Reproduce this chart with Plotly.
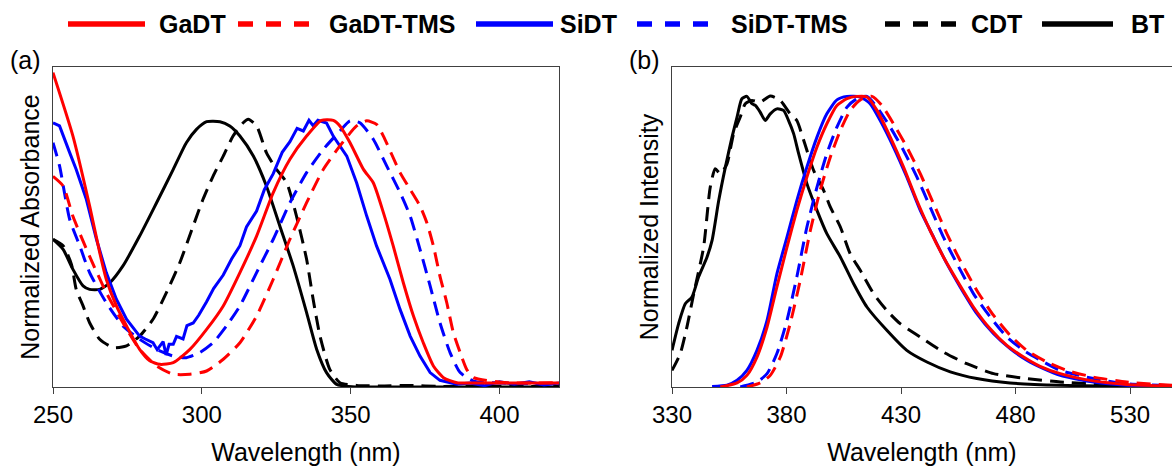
import plotly.graph_objects as go
from plotly.subplots import make_subplots

# ---- (a) absorbance, normalized ----
abs_gadt_x = [250, 256.7, 262.3, 265.7, 267.9, 271.3, 274.7, 279.1, 282.5, 285.9, 290.4, 296.0, 301.6,
              307.2, 312.8, 318.4, 324.0, 329.6, 335.2, 340.2, 344.2, 346.4, 349.8, 354.3, 357.6, 361.0,
              364.3, 367.7, 371.1, 374.4, 377.8, 381.2, 385.7, 391.3, 420]
abs_gadt_y = [1.179, 0.941, 0.679, 0.504, 0.404, 0.304, 0.229, 0.141, 0.098, 0.085, 0.091, 0.141, 0.216,
              0.304, 0.429, 0.566, 0.729, 0.854, 0.941, 1.0, 1.0, 0.979, 0.916, 0.816, 0.766, 0.654,
              0.529, 0.391, 0.266, 0.166, 0.079, 0.035, 0.016, 0.015, 0.015]

abs_gadttms_x = [250, 253.4, 256.7, 262.3, 267.9, 273.5, 279.1, 284.8, 290.4, 296.0, 301.6, 307.2, 312.8,
                 318.4, 324.0, 329.6, 335.2, 340.8, 346.4, 352.0, 355.4, 358.7, 361.0, 366.6, 370.0, 373.3,
                 375.6, 377.8, 380.0, 382.3, 384.5, 386.8, 389.0, 391.3, 402.5, 420]
abs_gadttms_y = [0.79, 0.754, 0.64, 0.49, 0.354, 0.241, 0.141, 0.079, 0.048, 0.048, 0.06, 0.104, 0.166,
                 0.266, 0.404, 0.554, 0.691, 0.816, 0.904, 0.979, 0.998, 0.985, 0.941, 0.804, 0.741, 0.679,
                 0.616, 0.529, 0.416, 0.316, 0.204, 0.129, 0.066, 0.035, 0.016, 0.016]

abs_sidt_x = [250, 252.2, 255.6, 257.8, 261.2, 264.6, 267.9, 271.3, 274.7, 277, 279.1, 281, 283.6, 285,
              287.0, 288, 289, 290.4, 291.5, 293.7, 295, 297.1, 299, 301.6, 304, 307.2, 310, 312.8, 315,
              318.4, 321, 324.0, 327, 329.6, 332, 334.1, 336, 337.4, 339, 341.9, 344.2, 348.7, 352.0,
              355.4, 358.7, 363.2, 366.6, 370.0, 373.3, 376.7, 380.0, 385.7, 390, 395, 400, 405, 410,
              415, 420]
abs_sidt_y = [0.991, 0.979, 0.879, 0.816, 0.704, 0.554, 0.429, 0.329, 0.254, 0.22, 0.191, 0.18, 0.166, 0.14,
              0.17, 0.12, 0.16, 0.16, 0.19, 0.18, 0.23, 0.24, 0.27, 0.32, 0.37, 0.42, 0.48, 0.53, 0.60,
              0.66, 0.74, 0.80, 0.88, 0.92, 0.97, 0.96, 1.0, 0.98, 1.0, 0.99, 0.94, 0.866, 0.766,
              0.641, 0.529, 0.404, 0.291, 0.191, 0.116, 0.054, 0.025, 0.01, 0.015, 0.005, 0.02, 0.01, 0.02,
              0.008, 0.015]

abs_siditms_x = [250, 252.2, 255.6, 259.0, 262.3, 267.9, 273.5, 279.1, 284.8, 290.4, 294.8, 299.3, 303.8,
                 308.3, 312.8, 318.4, 324.0, 329.6, 335.2, 340.8, 346.4, 349.8, 353.1, 357.6, 362.1, 366.6,
                 370.0, 373.3, 376.7, 380.0, 383.4, 386.8, 391.3, 400, 410, 420]
abs_siditms_y = [0.916, 0.829, 0.629, 0.529, 0.429, 0.316, 0.229, 0.179, 0.141, 0.116, 0.11, 0.129, 0.166,
                 0.229, 0.304, 0.429, 0.554, 0.691, 0.804, 0.891, 0.96, 0.998, 0.991, 0.929, 0.829, 0.729,
                 0.641, 0.516, 0.379, 0.241, 0.129, 0.054, 0.022, 0.015, 0.012, 0.012]

abs_cdt_x = [250, 253.4, 256.2, 257.8, 260.1, 262.3, 265.7, 270.2, 274.7, 279.1, 283.6, 288.1, 292.6,
             297.1, 300.4, 303.8, 307.2, 310.5, 313.9, 315.6, 318.4, 321.7, 325.1, 328.5, 331.8, 335.2,
             337.4, 339.7, 343.0, 346.4, 352.0, 360, 370, 380, 390, 400, 410, 420]
abs_cdt_y = [0.554, 0.53, 0.46, 0.366, 0.304, 0.241, 0.179, 0.148, 0.154, 0.191, 0.254, 0.354, 0.466,
             0.604, 0.704, 0.791, 0.866, 0.941, 0.991, 1.004, 0.979, 0.879, 0.816, 0.766, 0.641, 0.479,
             0.329, 0.191, 0.066, 0.016, 0.006, 0.004, 0.006, 0.002, 0.004, 0.003, 0.002, 0.003]

abs_bt_x = [250, 253.4, 256.7, 260.1, 262.3, 265.7, 269.1, 273.5, 279.1, 284.8, 290.4, 294.8, 298.2,
            301.6, 306.1, 309.4, 312.8, 317.3, 321.7, 326.2, 330.7, 335.2, 338.6, 341.9, 345.3, 352.0,
            360, 380, 400, 420]
abs_bt_y = [0.554, 0.516, 0.441, 0.379, 0.366, 0.366, 0.391, 0.454, 0.566, 0.691, 0.816, 0.916, 0.966,
            0.995, 0.995, 0.979, 0.941, 0.866, 0.754, 0.604, 0.454, 0.279, 0.141, 0.054, 0.01, 0.0,
            0.0, 0.0, 0.0, 0.0]

# ---- (b) emission, normalized ----
em_bt_x = [330, 332.9, 335.8, 338.7, 341.6, 345.3, 347.5, 350.4, 353.3, 356.2, 358.4, 360.5, 362.7, 364.9,
           366.4, 368.5, 370.7, 372.9, 375.8, 378.7, 380.9, 383.1, 385.3, 388.9, 393.3, 397.6, 403.5,
           409.3, 415.1, 423.8, 432.5, 441.3, 451.5, 463.1, 477.6, 499.5, 548.3]
em_bt_y = [0.126, 0.218, 0.286, 0.309, 0.378, 0.447, 0.504, 0.641, 0.756, 0.859, 0.928, 0.991, 0.999, 0.974,
           0.968, 0.945, 0.916, 0.939, 0.956, 0.951, 0.916, 0.871, 0.802, 0.699, 0.607, 0.527, 0.447,
           0.355, 0.275, 0.195, 0.126, 0.086, 0.052, 0.029, 0.014, 0.006, 0.001]

em_cdt_x = [330, 333.6, 336.5, 339.5, 343.8, 346.7, 348.9, 351.1, 354.0, 356.9, 359.8, 362.0, 364.9, 368.5,
            372.9, 377.3, 381.6, 384.5, 387.5, 391.8, 396.2, 399.1, 403.5, 407.8, 412.2, 418.0, 423.8,
            429.6, 438.4, 448.5, 458.7, 470.4, 484.9, 499.5, 514.0, 528.5, 548.3]
em_cdt_y = [0.057, 0.115, 0.206, 0.321, 0.481, 0.687, 0.75, 0.733, 0.767, 0.871, 0.928, 0.974, 0.985, 0.979,
            1.0, 0.985, 0.939, 0.916, 0.848, 0.745, 0.676, 0.619, 0.55, 0.458, 0.401, 0.321, 0.263,
            0.218, 0.172, 0.12, 0.08, 0.046, 0.029, 0.017, 0.011, 0.006, 0.002]

em_sidt_x = [347.5, 354.0, 358.4, 362.7, 367.1, 371.5, 375.8, 380.2, 384.5, 388.9, 393.3, 397.6, 402.0,
             406.4, 412.2, 416.5, 420.9, 426.7, 432.5, 438.4, 444.2, 450.0, 455.8, 463.1, 470.4, 477.6,
             484.9, 492.2, 499.5, 514.0, 528.5, 548.3]
em_sidt_y = [0.002, 0.006, 0.023, 0.057, 0.126, 0.229, 0.389, 0.515, 0.641, 0.756, 0.859, 0.939, 0.987,
             0.999, 0.997, 0.974, 0.916, 0.825, 0.722, 0.607, 0.515, 0.424, 0.344, 0.252, 0.183, 0.132,
             0.092, 0.063, 0.04, 0.017, 0.006, 0.002]

em_gadt_x = [351.1, 358.4, 362.7, 367.1, 371.5, 375.8, 380.2, 384.5, 388.9, 393.3, 397.6, 402.0, 406.4,
             410.7, 415.1, 419.5, 425.3, 431.1, 436.9, 442.7, 448.5, 454.4, 461.6, 468.9, 476.2, 483.5,
             490.7, 499.5, 514.0, 528.5, 548.3]
em_gadt_y = [0.0, 0.014, 0.04, 0.103, 0.206, 0.344, 0.481, 0.607, 0.722, 0.825, 0.905, 0.968, 0.991,
             0.999, 0.997, 0.951, 0.859, 0.756, 0.641, 0.538, 0.447, 0.367, 0.275, 0.2, 0.143, 0.103,
             0.071, 0.046, 0.021, 0.009, 0.003]

em_siditms_x = [359.8, 367.1, 371.5, 375.8, 380.2, 384.5, 388.9, 393.3, 397.6, 402.0, 406.4, 410.7, 415.1,
                419.5, 425.3, 431.1, 436.9, 442.7, 448.5, 454.4, 461.6, 468.9, 476.2, 483.5, 492.2, 499.5,
                514.0, 528.5, 548.3]
em_siditms_y = [0.0, 0.017, 0.046, 0.115, 0.229, 0.378, 0.55, 0.687, 0.802, 0.893, 0.962, 0.991, 0.999,
                0.962, 0.893, 0.813, 0.722, 0.619, 0.515, 0.424, 0.321, 0.241, 0.172, 0.126, 0.086, 0.057,
                0.029, 0.011, 0.005]

em_gadttms_x = [362.7, 368.5, 372.9, 377.3, 381.6, 386.0, 390.4, 394.7, 399.1, 403.5, 407.8, 412.2, 417.3,
                421.6, 426.7, 432.5, 438.4, 444.2, 450.0, 455.8, 463.1, 470.4, 477.6, 484.9, 493.6, 502.4,
                514.0, 528.5, 548.3]
em_gadttms_y = [0.0, 0.014, 0.04, 0.103, 0.218, 0.367, 0.538, 0.676, 0.79, 0.882, 0.951, 0.987, 0.999,
                0.968, 0.905, 0.825, 0.733, 0.63, 0.527, 0.435, 0.332, 0.246, 0.178, 0.126, 0.086, 0.057,
                0.034, 0.017, 0.006]

RED = "#FF0000"
BLUE = "#0000FF"
BLACK = "#000000"
DASH = "14px,8px"
LEG_DASH = "15px,13px"
FONT = "Liberation Sans, Arial, sans-serif"
W, H = 1172, 466

# name, colour, dashed?, absorbance data, emission data
series = [
    ("BT", BLACK, False, abs_bt_x, abs_bt_y, em_bt_x, em_bt_y),
    ("CDT", BLACK, True, abs_cdt_x, abs_cdt_y, em_cdt_x, em_cdt_y),
    ("SiDT-TMS", BLUE, True, abs_siditms_x, abs_siditms_y, em_siditms_x, em_siditms_y),
    ("SiDT", BLUE, False, abs_sidt_x, abs_sidt_y, em_sidt_x, em_sidt_y),
    ("GaDT-TMS", RED, True, abs_gadttms_x, abs_gadttms_y, em_gadttms_x, em_gadttms_y),
    ("GaDT", RED, False, abs_gadt_x, abs_gadt_y, em_gadt_x, em_gadt_y),
]

# legend row across the top: (name, sample line start px, sample line end px, text start px)
legend_slots = [
    ("GaDT", 68, 145, 157),
    ("GaDT-TMS", 238, 315, 327),
    ("SiDT", 476, 553, 558),
    ("SiDT-TMS", 637, 712, 729),
    ("CDT", 885, 963, 969),
    ("BT", 1042, 1113, 1129),
]
LEG_Y = 24

fig = make_subplots(rows=1, cols=2)

for name, col, dashed, ax_, ay_, ex_, ey_ in series:
    dash = DASH if dashed else "solid"
    noisy = name == "SiDT"
    fig.add_trace(go.Scatter(x=ax_, y=ay_, name=name, showlegend=False,
                             mode="lines", line=dict(color=col, width=3, dash=dash,
                                                     shape="linear" if noisy else "spline",
                                                     smoothing=0.6)),
                  row=1, col=1)
    fig.add_trace(go.Scatter(x=ex_, y=ey_, name=name, showlegend=False,
                             mode="lines", line=dict(color=col, width=3, dash=dash,
                                                     shape="spline", smoothing=0.6)),
                  row=1, col=2)

style = {s[0]: (s[1], s[2]) for s in series}
for name, x0, x1, xt in legend_slots:
    col, dashed = style[name]
    fig.add_shape(type="line", xref="paper", yref="paper",
                  x0=x0 / W, x1=x1 / W, y0=1 - LEG_Y / H, y1=1 - LEG_Y / H,
                  line=dict(color=col, width=5.5, dash=LEG_DASH if dashed else "solid"))
    fig.add_annotation(text=name, x=xt / W, y=1 - LEG_Y / H, xref="paper", yref="paper",
                       xanchor="left", yanchor="middle", showarrow=False,
                       font=dict(family=FONT, size=25, color="black", weight="bold"))

axis_common = dict(showline=True, mirror=True, linecolor="#404040", linewidth=1,
                   showgrid=False, zeroline=False, automargin=False)
tickfont = dict(family=FONT, size=24, color="black")
titlefont = dict(family=FONT, size=25, color="black")

fig.update_xaxes(axis_common, ticks="outside", ticklen=6, tickcolor="#404040",
                 tickfont=tickfont, title_font=titlefont, title_standoff=17)
fig.update_yaxes(axis_common, ticks="", showticklabels=False, title_font=titlefont)

fig.update_xaxes(domain=[53 / W, 559 / W], range=[250, 420], tickvals=[250, 300, 350, 400],
                 title_text="Wavelength (nm)", row=1, col=1)
fig.update_xaxes(domain=[672 / W, 1.0], range=[330, 548.3], tickvals=[330, 380, 430, 480, 530],
                 title_text="Wavelength (nm)", row=1, col=2)
fig.update_yaxes(domain=[1 - 387 / H, 1 - 67 / H], range=[0, 1.2],
                 title_text="Normalized Absorbance", title_standoff=5, row=1, col=1)
fig.update_yaxes(domain=[1 - 387 / H, 1 - 67 / H], range=[0, 1.1],
                 title_text="Normalized Intensity", title_standoff=5, row=1, col=2)

fig.add_annotation(text="(a)", x=8 / W, y=1 - 60 / H, xref="paper", yref="paper",
                   xanchor="left", yanchor="middle", showarrow=False,
                   font=dict(family=FONT, size=25, color="black"))
fig.add_annotation(text="(b)", x=627 / W, y=1 - 60 / H, xref="paper", yref="paper",
                   xanchor="left", yanchor="middle", showarrow=False,
                   font=dict(family=FONT, size=25, color="black"))

fig.update_layout(
    template="none",
    width=W, height=H,
    margin=dict(l=0, r=0, t=0, b=0),
    paper_bgcolor="white", plot_bgcolor="white",
    showlegend=False,
)

# page body has an 8px default margin; remove it so the figure sits at the window origin
fig.write_html("out.html", config={"displayModeBar": False},
               post_script="document.body.style.margin='0px';")
